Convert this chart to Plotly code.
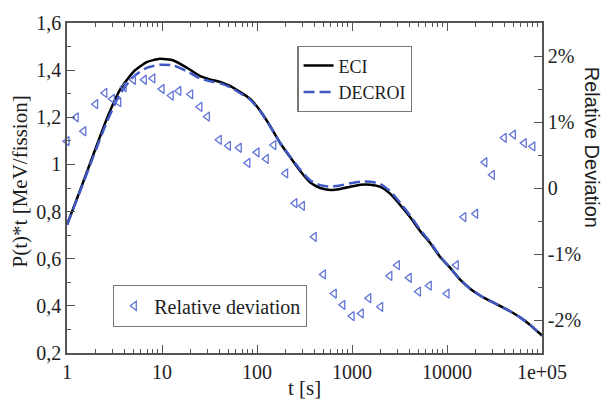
import plotly.graph_objects as go

# ---- data ----
t_curve = [1, 1.37, 1.89, 2.62, 3.62, 5.0, 6.9, 9.5, 13.2, 18.3, 25, 32, 41, 52, 66, 85,
           108, 138, 175, 224, 285, 364, 463, 590, 753, 960, 1223, 1560, 1987, 2535,
           3230, 4115, 5245, 6680, 8510, 10860, 13820, 17650, 22500, 28650, 36500,
           46600, 59400, 75700, 100000]
eci = [0.744, 0.889, 1.041, 1.193, 1.317, 1.393, 1.434, 1.448, 1.441, 1.410, 1.376,
       1.361, 1.350, 1.333, 1.308, 1.278, 1.228, 1.162, 1.091, 1.030, 0.972, 0.923,
       0.900, 0.892, 0.896, 0.905, 0.914, 0.914, 0.905, 0.875, 0.827, 0.775, 0.716,
       0.666, 0.606, 0.560, 0.510, 0.472, 0.443, 0.420, 0.399, 0.376, 0.350, 0.318,
       0.274]
decroi = [0.744, 0.885, 1.033, 1.180, 1.300, 1.372, 1.410, 1.423, 1.420, 1.395, 1.366,
          1.353, 1.344, 1.328, 1.303, 1.274, 1.226, 1.161, 1.092, 1.033, 0.978, 0.932,
          0.912, 0.906, 0.911, 0.920, 0.927, 0.927, 0.917, 0.886, 0.836, 0.782, 0.722,
          0.670, 0.609, 0.561, 0.510, 0.472, 0.443, 0.420, 0.399, 0.376, 0.350, 0.318,
          0.274]

t_dev = [1, 1.25, 1.5, 2, 2.5, 3, 3.5, 4, 5, 6.5, 8,
         10, 12.5, 15, 20, 25, 30, 40, 50, 65, 80,
         100, 125, 150, 200, 250, 300, 400, 500, 650, 800,
         1000, 1250, 1500, 2000, 2500, 3000, 4000, 5000, 6500,
         10000, 12500, 15000, 20000, 25000, 30000, 40000, 50000, 65000, 80000]
rel_dev = [0.71, 1.07, 0.86, 1.27, 1.44, 1.35, 1.30, 1.53, 1.64, 1.64, 1.66,
           1.50, 1.40, 1.47, 1.42, 1.23, 1.08, 0.73, 0.64, 0.61, 0.38,
           0.54, 0.44, 0.65, 0.22, -0.23, -0.27, -0.74, -1.31, -1.60, -1.77,
           -1.94, -1.90, -1.67, -1.80, -1.33, -1.17, -1.36, -1.57, -1.48,
           -1.60, -1.17, -0.44, -0.39, 0.39, 0.20, 0.76, 0.81, 0.68, 0.63]

x_tickvals = [1, 10, 100, 1000, 10000, 100000]
x_ticktext = ["1", "10", "100", "1000", "10000", "1e+05"]
x_minor = [k * 10 ** d for d in range(5) for k in range(2, 10)]
y_tickvals = [0.2, 0.4, 0.6, 0.8, 1.0, 1.2, 1.4, 1.6]
y_ticktext = ["0,2", "0,4", "0,6", "0,8", "1", "1,2", "1,4", "1,6"]
y_minor = [0.3, 0.5, 0.7, 0.9, 1.1, 1.3, 1.5]
y2_tickvals = [-2, -1, 0, 1, 2]
y2_ticktext = ["-2%", "-1%", "0", "1%", "2%"]
y2_minor = [-1.5, -0.5, 0.5, 1.5]

SERIF = "Liberation Serif"
AX = "#555555"
TXT = "#1e1e1e"

fig = go.Figure()
fig.add_trace(go.Scatter(
    x=t_dev, y=rel_dev, yaxis="y2", mode="markers", name="Relative deviation",
    marker=dict(symbol="triangle-left-open", size=8, color="#6274d6",
                line=dict(width=1.3, color="#6274d6")),
    cliponaxis=False, legend="legend2"))
fig.add_trace(go.Scatter(
    x=t_curve, y=eci, mode="lines", name="ECI",
    line=dict(color="black", width=2.5, shape="spline", smoothing=0.5)))
fig.add_trace(go.Scatter(
    x=t_curve, y=decroi, mode="lines", name="DECROI",
    line=dict(color="#3f58c4", width=2.5, dash="11px,5px", shape="spline", smoothing=0.5)))

tickfont = dict(family=SERIF, size=20, color=TXT)

fig.update_layout(
    width=603, height=399,
    margin=dict(l=67, r=61, t=15, b=46),
    paper_bgcolor="white", plot_bgcolor="white",
    showlegend=True,
    xaxis=dict(type="log", range=[0, 5], tickvals=x_tickvals, ticktext=x_ticktext,
               ticks="inside", ticklen=8, tickwidth=1, tickcolor=AX,
               showline=True, linecolor=AX, linewidth=1.5, mirror="ticks",
               showgrid=False, zeroline=False, tickfont=tickfont,
               minor=dict(tickvals=x_minor, ticks="inside", ticklen=4, tickwidth=1,
                          tickcolor=AX, showgrid=False)),
    yaxis=dict(range=[0.2, 1.6], tickvals=y_tickvals, ticktext=y_ticktext,
               ticks="inside", ticklen=8, tickwidth=1, tickcolor=AX,
               showline=True, linecolor=AX, linewidth=1.5,
               showgrid=False, zeroline=False, tickfont=tickfont,
               minor=dict(tickvals=y_minor, ticks="inside", ticklen=4, tickwidth=1,
                          tickcolor=AX, showgrid=False)),
    yaxis2=dict(overlaying="y", side="right", range=[-2.5, 2.5],
                tickvals=y2_tickvals, ticktext=y2_ticktext,
                ticks="inside", ticklen=8, tickwidth=1, tickcolor=AX,
                showline=True, linecolor=AX, linewidth=1.5,
                showgrid=False, zeroline=False, tickfont=tickfont,
                minor=dict(tickvals=y2_minor, ticks="inside", ticklen=4, tickwidth=1,
                           tickcolor=AX, showgrid=False)),
    legend=dict(x=0.485, y=0.93, xanchor="left", yanchor="top",
                bgcolor="white", bordercolor="#777777", borderwidth=1.2,
                font=dict(family=SERIF, size=18, color=TXT), itemwidth=30,
                traceorder="normal", tracegroupgap=0),
    legend2=dict(x=0.097, y=0.142, xanchor="left", yanchor="middle",
                 bgcolor="white", bordercolor="#777777", borderwidth=1.2,
                 itemwidth=30,
                 font=dict(family=SERIF, size=20, color=TXT)),
    annotations=[
        dict(text="P(t)*t [MeV/fission]", xref="paper", yref="paper", x=0, y=0.52,
             xanchor="center", yanchor="middle", xshift=-47, textangle=-90,
             showarrow=False, font=dict(family=SERIF, size=21, color=TXT)),
        dict(text="t [s]", xref="paper", yref="paper", x=0.5, y=0,
             xanchor="center", yanchor="middle", yshift=-35,
             showarrow=False, font=dict(family=SERIF, size=21, color=TXT)),
        dict(text="Relative Deviation", xref="paper", yref="paper", x=1, y=0.625,
             xanchor="center", yanchor="middle", xshift=50, textangle=90,
             showarrow=False, font=dict(family="Liberation Sans", size=20, color=TXT)),
    ],
)

fig.write_html("out.html")
